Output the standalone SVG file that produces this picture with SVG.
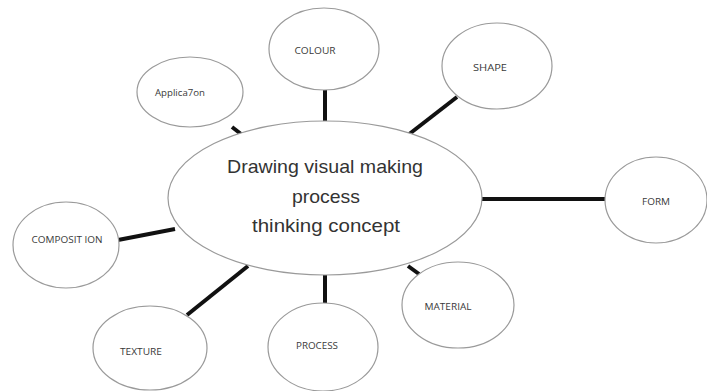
<svg xmlns="http://www.w3.org/2000/svg" width="707" height="391" viewBox="0 0 707 391">
<style>
.n{fill:#fff;stroke:#9a9a9a;stroke-width:1.2}
.l{font-family:"Open Sans","Liberation Sans",sans-serif;font-size:9px;fill:#3a3a3a;text-anchor:middle}
.c{font-family:"Liberation Sans",sans-serif;font-size:18.5px;fill:#333;text-anchor:middle}
.e{stroke:#111;stroke-width:4;stroke-linecap:butt}
</style>
<rect width="707" height="391" fill="#fff"/>
<g id="connectors">
<line class="e" x1="232" y1="127" x2="241" y2="134"/>
<line class="e" x1="325" y1="90" x2="325" y2="122"/>
<line class="e" x1="408" y1="135" x2="457" y2="97"/>
<line class="e" x1="482" y1="199" x2="605" y2="199"/>
<line class="e" x1="118" y1="240" x2="175" y2="229"/>
<line class="e" x1="187" y1="315" x2="248" y2="266"/>
<line class="e" x1="325" y1="275" x2="325" y2="303"/>
<line class="e" x1="408" y1="266" x2="419" y2="274"/>
</g>
<g id="center">
<ellipse class="n" cx="325" cy="198" rx="157" ry="77"/>
<text class="c" x="325" y="173" textLength="196" lengthAdjust="spacingAndGlyphs">Drawing visual making</text>
<text class="c" x="326" y="203" textLength="68" lengthAdjust="spacingAndGlyphs">process</text>
<text class="c" x="326" y="232" textLength="148" lengthAdjust="spacingAndGlyphs">thinking concept</text>
</g>
<g id="application">
<ellipse class="n" cx="190" cy="92" rx="53" ry="35"/>
<text class="l" x="180" y="96" textLength="50" lengthAdjust="spacingAndGlyphs">Applica7on</text>
</g>
<g id="colour">
<ellipse class="n" cx="324" cy="49" rx="55" ry="41"/>
<text class="l" x="315" y="54" textLength="41" lengthAdjust="spacingAndGlyphs">COLOUR</text>
</g>
<g id="shape">
<ellipse class="n" cx="497" cy="66" rx="55" ry="43"/>
<text class="l" x="490" y="71" textLength="34" lengthAdjust="spacingAndGlyphs">SHAPE</text>
</g>
<g id="form">
<ellipse class="n" cx="656" cy="200" rx="51" ry="43"/>
<text class="l" x="656" y="205" textLength="28" lengthAdjust="spacingAndGlyphs">FORM</text>
</g>
<g id="composition">
<ellipse class="n" cx="66" cy="245" rx="53" ry="43"/>
<text class="l" x="67" y="243" textLength="71" lengthAdjust="spacingAndGlyphs">COMPOSIT ION</text>
</g>
<g id="material">
<ellipse class="n" cx="458" cy="305" rx="56" ry="43"/>
<text class="l" x="448" y="310" textLength="47" lengthAdjust="spacingAndGlyphs">MATERIAL</text>
</g>
<g id="texture">
<ellipse class="n" cx="150" cy="348" rx="57" ry="42"/>
<text class="l" x="141" y="355" textLength="42" lengthAdjust="spacingAndGlyphs">TEXTURE</text>
</g>
<g id="process">
<ellipse class="n" cx="323" cy="347" rx="55" ry="44"/>
<text class="l" x="317" y="349" textLength="42" lengthAdjust="spacingAndGlyphs">PROCESS</text>
</g>
</svg>
